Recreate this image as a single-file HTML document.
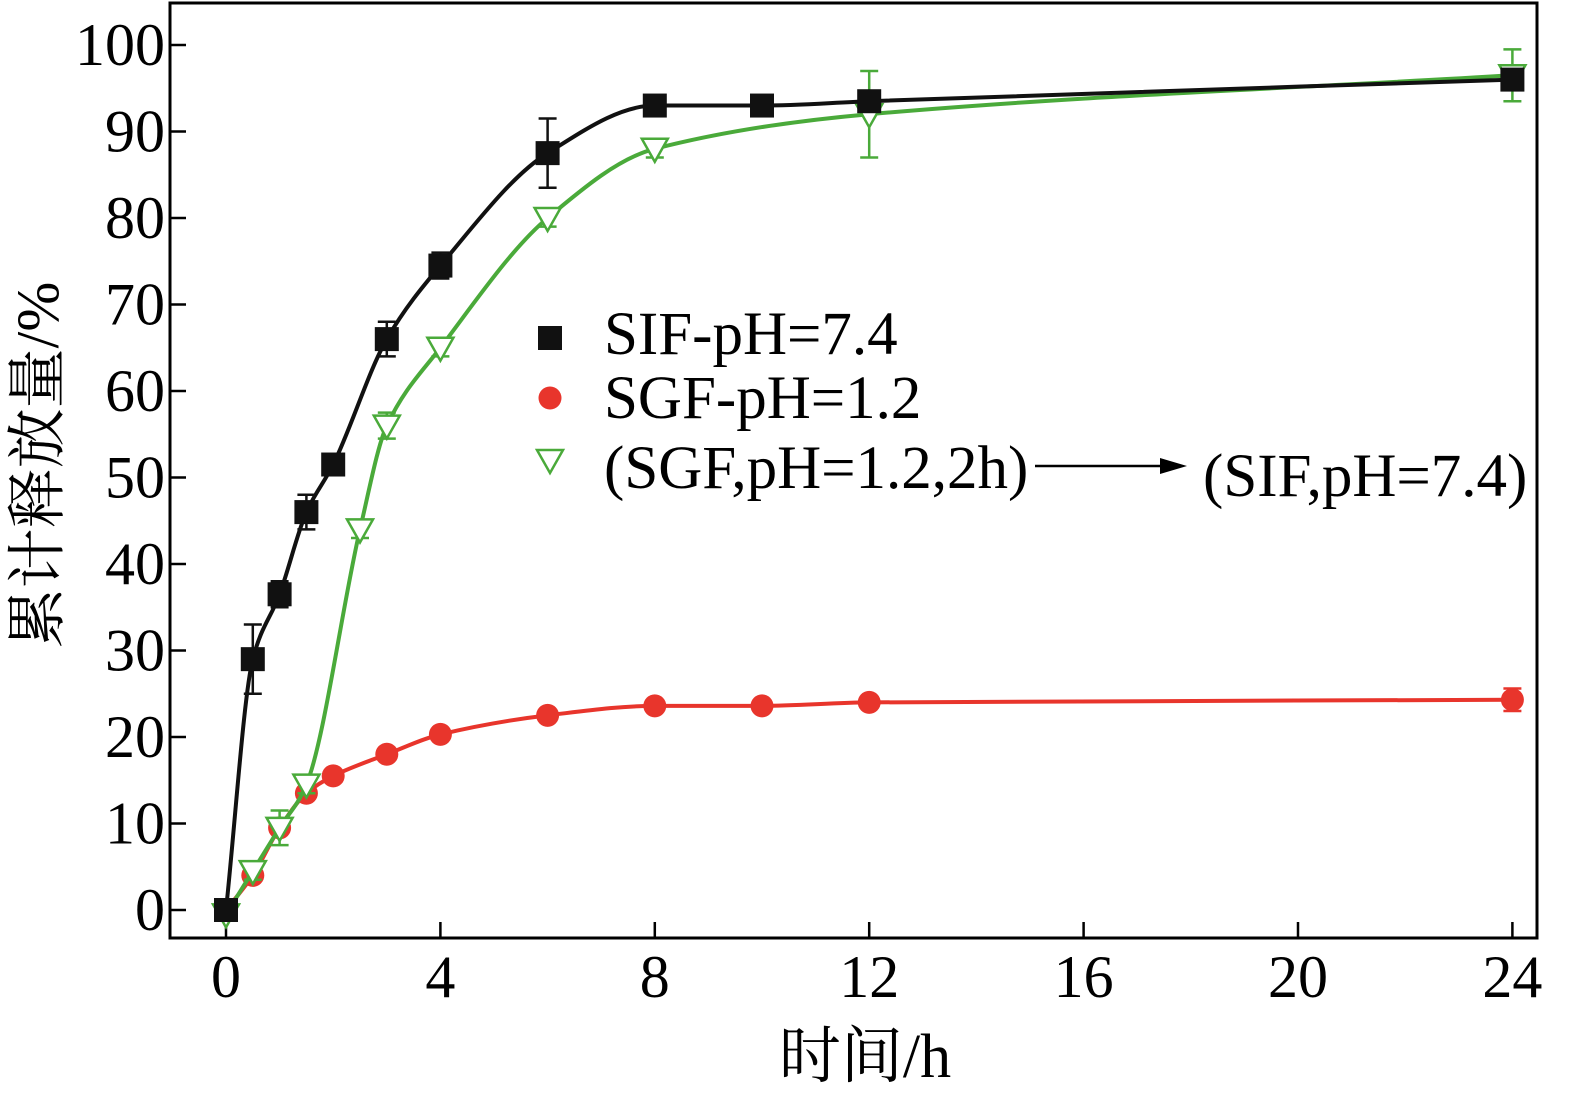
<!DOCTYPE html>
<html><head><meta charset="utf-8"><style>
body{margin:0;background:#fff}
text{font-family:"Liberation Serif","Noto Serif CJK SC",serif}
</style></head><body>
<svg id="chart" width="1594" height="1106" xmlns="http://www.w3.org/2000/svg"></svg>
<script>
const timesSIF=[0,0.5,1,1.5,2,3,4,6,8,10,12,24];
const valsSIF=[0,29,36.5,46,51.5,66,74.5,87.5,93,93,93.5,96];
const errSIF=[0,4,1.5,2,0.5,2,1.5,4,0.5,0.5,1,1];
const timesSGF=[0,0.5,1,1.5,2,3,4,6,8,10,12,24];
const valsSGF=[0,4,9.5,13.5,15.5,18,20.3,22.5,23.6,23.6,24,24.3];
const errSGF=[0,0.5,0.5,0.5,0.5,0.5,0.5,0.5,0.5,0.5,0.5,1.3];
const timesMix=[0,0.5,1,1.5,2.5,3,4,6,8,12,24];
const valsMix=[-0.5,4.5,9.5,14.5,44,56,65,80,88,92,96.5];
const errMix=[0.5,1,2,1,1,1.5,1,1,1,5,3];
const xTicks=[0,4,8,12,16,20,24];
const yTicks=[0,10,20,30,40,50,60,70,80,90,100];
const NS="http://www.w3.org/2000/svg";
const svg=document.getElementById('chart');
const X=t=>226+53.6*t, Y=v=>910-8.65*v;
function mk(tag,attrs,parent){const e=document.createElementNS(NS,tag);for(const k in attrs)e.setAttribute(k,attrs[k]);(parent||svg).appendChild(e);return e;}
const frame=mk('rect',{x:170,y:3,width:1367,height:935,fill:'none',stroke:'#000','stroke-width':3});


xTicks.forEach(t=>{
 const l=mk('line',{x1:X(t),x2:X(t),y1:938,y2:922,stroke:'#000','stroke-width':2.5});
 
 
 const tx=mk('text',{x:X(t),y:997,'font-size':60,'text-anchor':'middle'});tx.textContent=t;
 
 
});
yTicks.forEach(v=>{
 const l=mk('line',{x1:170,x2:186,y1:Y(v),y2:Y(v),stroke:'#000','stroke-width':2.5});
 
 
 const tx=mk('text',{x:165,y:Y(v)+20,'font-size':60,'text-anchor':'end'});tx.textContent=v;
 
 
});
function curve(ts,vs){
 const p=ts.map((t,i)=>[X(t),Y(vs[i])]);const n=p.length;
 const d=[],m=[];
 for(let i=0;i<n-1;i++)d.push((p[i+1][1]-p[i][1])/(p[i+1][0]-p[i][0]));
 m[0]=d[0];m[n-1]=d[n-2];
 for(let i=1;i<n-1;i++)m[i]=(d[i-1]*d[i]<=0)?0:2/(1/d[i-1]+1/d[i]);
 let s='M'+p[0][0]+','+p[0][1];
 for(let i=0;i<n-1;i++){const h=(p[i+1][0]-p[i][0])/3;
  s+=` C${p[i][0]+h},${p[i][1]+m[i]*h} ${p[i+1][0]-h},${p[i+1][1]-m[i+1]*h} ${p[i+1][0]},${p[i+1][1]}`;}
 return s;
}
function series(ts,vs,es,color,shape,name){
 const c=mk('path',{d:curve(ts,vs),fill:'none',stroke:color,'stroke-width':4});
 
 
 ts.forEach((t,i)=>{
  const x=X(t),y=Y(vs[i]),e=es[i]*8.65;
  const eb=mk('path',{d:`M${x},${y-e}V${y+e}M${x-9},${y-e}H${x+9}M${x-9},${y+e}H${x+9}`,stroke:color,'stroke-width':2.5,fill:'none'});
  
  
  let m;
  if(shape==='sq')m=mk('rect',{x:x-12,y:y-12,width:24,height:24,fill:color});
  else if(shape==='ci')m=mk('circle',{cx:x,cy:y,r:11.5,fill:color});
  else m=mk('path',{d:`M${x-13},${y-10}H${x+13}L${x},${y+13}Z`,fill:'#fff',stroke:color,'stroke-width':2.5});
  
  
 });
}
series(timesSGF,valsSGF,errSGF,'#e8352c','ci','sgf');
series(timesMix,valsMix,errMix,'#4aaa3a','tri','sgf-sif');
series(timesSIF,valsSIF,errSIF,'#111','sq','sif');
const lg=mk('g',{});


mk('rect',{x:538,y:326,width:24,height:24,fill:'#111'},lg);
mk('circle',{cx:550,cy:398,r:11.5,fill:'#e8352c'},lg);
mk('path',{d:'M537,450H563L550,473Z',fill:'#fff',stroke:'#4aaa3a','stroke-width':2.5},lg);
[['SIF-pH=7.4',354],['SGF-pH=1.2',418],['(SGF,pH=1.2,2h)',488]].forEach(([s,y])=>{const t=mk('text',{x:604,y:y,'font-size':61},lg);t.textContent=s;});
const t2=mk('text',{x:1203,y:496,'font-size':61},lg);t2.textContent='(SIF,pH=7.4)';
mk('path',{d:'M1035,466H1170',stroke:'#000','stroke-width':2.5},lg);
mk('path',{d:'M1187,466L1160,458L1160,474Z',fill:'#000'},lg);
const xl=mk('text',{x:865,y:1077,'font-size':62,'text-anchor':'middle'});xl.textContent='时间/h';


const yl=mk('text',{x:0,y:0,'font-size':60,'text-anchor':'middle',transform:'translate(58,465) rotate(-90)'});yl.textContent='累计释放量/%';


</script>
</body></html>
